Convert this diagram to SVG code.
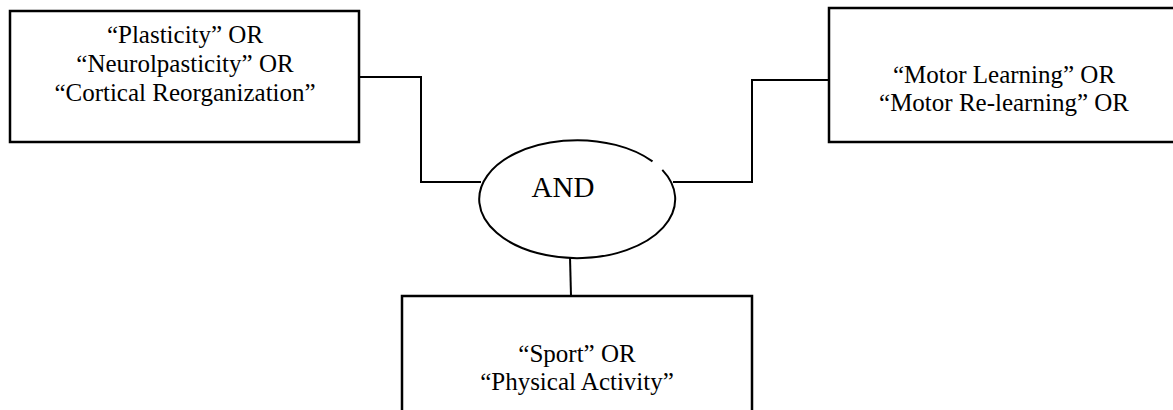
<svg xmlns="http://www.w3.org/2000/svg" width="1173" height="410" viewBox="0 0 1173 410">
  <style>
    .box { fill: #ffffff; stroke: #000000; stroke-width: 2.5; }
    .link { fill: none; stroke: #000000; stroke-width: 2; }
    .oval { fill: #ffffff; stroke: #000000; stroke-width: 2; }
    .label { font-family: "Liberation Serif", "Times New Roman", serif; font-size: 25px; fill: #000000; text-anchor: middle; }
    .op { font-family: "Liberation Serif", "Times New Roman", serif; font-size: 29px; fill: #000000; text-anchor: middle; }
  </style>
  <rect width="1173" height="410" fill="#ffffff"/>

  <g id="connectors">
    <polyline class="link" points="359,77 421,77 421,182 481,182"/>
    <polyline class="link" points="829,80 752,80 752,182 673,182"/>
    <line class="link" x1="570" y1="257" x2="571" y2="296"/>
  </g>

  <g id="node-plasticity">
    <rect class="box" x="10" y="11" width="349" height="131"/>
    <text class="label" x="185" y="43">“Plasticity” OR</text>
    <text class="label" x="185" y="72">“Neurolpasticity” OR</text>
    <text class="label" x="185" y="101">“Cortical Reorganization”</text>
  </g>

  <g id="node-motor">
    <rect class="box" x="829" y="8" width="352" height="134"/>
    <text class="label" x="1004" y="83">“Motor Learning” OR</text>
    <text class="label" x="1004" y="111">“Motor Re-learning” OR</text>
  </g>

  <g id="node-and">
    <path class="oval" d="M662.3,169.9 A98,59 0 1 1 652.5,161.4"/>
    <text class="op" x="563" y="197">AND</text>
  </g>

  <g id="node-sport">
    <rect class="box" x="402" y="296" width="350" height="130"/>
    <text class="label" x="577" y="362">“Sport” OR</text>
    <text class="label" x="577" y="390">“Physical Activity”</text>
  </g>
</svg>
